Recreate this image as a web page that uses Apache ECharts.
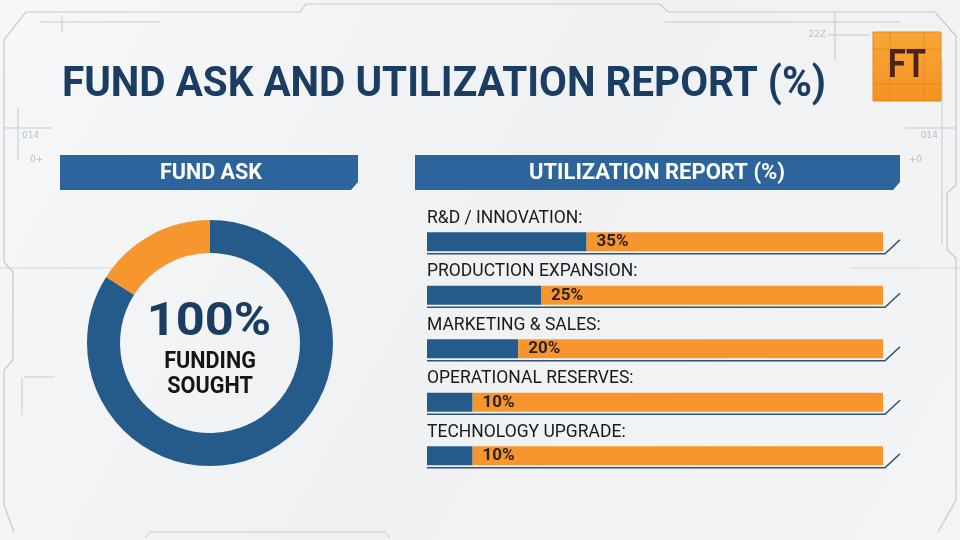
<!DOCTYPE html>
<html>
<head>
<meta charset="utf-8">
<script src="https://cdn.jsdelivr.net/npm/echarts@6/dist/echarts.min.js"></script>
<style>
html,body{margin:0;padding:0;width:960px;height:540px;overflow:hidden;}
#main{width:960px;height:540px;}
</style>
</head>
<body>
<div id="main"></div>
<script>
// ---- data ----
var titleText = 'FUND ASK AND UTILIZATION REPORT (%)';
var leftHeader = 'FUND ASK';
var rightHeader = 'UTILIZATION REPORT (%)';
var donutNames = ['Funding Sought', 'Other'];
var donutValues = [84, 16];
var donutCenterValue = '100%';
var donutCenterText = ['FUNDING', 'SOUGHT'];
var categories = ['R&D / INNOVATION:', 'PRODUCTION EXPANSION:', 'MARKETING & SALES:', 'OPERATIONAL RESERVES:', 'TECHNOLOGY UPGRADE:'];
var utilization = [35, 25, 20, 10, 10];
var remainder = utilization.map(function (v) { return 100 - v; });

var BLUE = '#255b8b';
var ORANGE = '#f7962e';
var HEAD = '#2d649c';
var NAVY = '#1b3d61';
var narrow = 'Roboto,"Noto Sans",sans-serif';
var condBold = 'Roboto,"Noto Sans",sans-serif';

var chart = echarts.init(document.getElementById('main'), null, {renderer: 'canvas'});

function sText(x, y, text, font, fill, sx, align) {
  return {type: 'text', x: x, y: y, scaleX: sx, scaleY: 1,
    style: {x: 0, y: 0, text: text, fill: fill, font: font, align: align || 'center', verticalAlign: 'middle'}};
}

var deco = '#c3c9d1';
var graphics = [
  // background
  {type: 'rect', shape: {x: 0, y: 0, width: 960, height: 540}, z: -10,
   style: {fill: new echarts.graphic.LinearGradient(0, 0, 1, 1, [
     {offset: 0, color: '#f6f7f8'}, {offset: 0.5, color: '#eff1f3'}, {offset: 1, color: '#f3f4f6'}])}},
  // frame
  {type: 'polyline', z: -5, shape: {points: [[4, 200], [4, 40], [26, 12], [300, 12], [306, 4]]}, style: {stroke: deco, lineWidth: 1.2, fill: null}},
  {type: 'polyline', z: -5, shape: {points: [[306, 4], [660, 4], [668, 12], [935, 12], [956, 36], [956, 170]]}, style: {stroke: deco, lineWidth: 1.2, fill: null}},
  {type: 'polyline', z: -5, shape: {points: [[4, 200], [4, 262], [13, 272], [13, 360], [4, 370], [4, 505], [14, 532]]}, style: {stroke: deco, lineWidth: 1.2, fill: null}},
  {type: 'polyline', z: -5, shape: {points: [[956, 170], [956, 185], [947, 193], [947, 250], [956, 258], [956, 500], [938, 532]]}, style: {stroke: deco, lineWidth: 1.2, fill: null}},
  {type: 'polyline', z: -5, shape: {points: [[145, 538], [150, 532], [385, 532], [390, 538]]}, style: {stroke: deco, lineWidth: 1, fill: null}},
  {type: 'line', z: -5, shape: {x1: 40, y1: 22, x2: 160, y2: 22}, style: {stroke: deco, lineWidth: 1}},
  {type: 'line', z: -5, shape: {x1: 62, y1: 15, x2: 62, y2: 32}, style: {stroke: deco, lineWidth: 1}},
  {type: 'line', z: -5, shape: {x1: 665, y1: 22, x2: 900, y2: 22}, style: {stroke: deco, lineWidth: 1}},
  {type: 'line', z: -5, shape: {x1: 835, y1: 12, x2: 835, y2: 60}, style: {stroke: deco, lineWidth: 1}},
  {type: 'line', z: -5, shape: {x1: 828, y1: 35, x2: 870, y2: 35}, style: {stroke: deco, lineWidth: 1}},
  {type: 'text', z: -5, style: {x: 826, y: 35, text: '22Z', fill: '#b8bec6', font: '9px "DejaVu Sans"', align: 'right', verticalAlign: 'middle'}},
  {type: 'line', z: -5, shape: {x1: 5, y1: 128, x2: 52, y2: 128}, style: {stroke: deco, lineWidth: 1}},
  {type: 'line', z: -5, shape: {x1: 18, y1: 108, x2: 18, y2: 160}, style: {stroke: deco, lineWidth: 1}},
  {type: 'text', z: -5, style: {x: 22, y: 136, text: '014', fill: '#b8bec6', font: '9px "DejaVu Sans"', verticalAlign: 'middle'}},
  {type: 'text', z: -5, style: {x: 30, y: 160, text: '0+', fill: '#b8bec6', font: '9px "DejaVu Sans"', verticalAlign: 'middle'}},
  {type: 'line', z: -5, shape: {x1: 905, y1: 128, x2: 955, y2: 128}, style: {stroke: deco, lineWidth: 1}},
  {type: 'line', z: -5, shape: {x1: 942, y1: 60, x2: 942, y2: 245}, style: {stroke: deco, lineWidth: 1}},
  {type: 'text', z: -5, style: {x: 938, y: 136, text: '014', fill: '#b8bec6', font: '9px "DejaVu Sans"', align: 'right', verticalAlign: 'middle'}},
  {type: 'text', z: -5, style: {x: 922, y: 160, text: '+0', fill: '#b8bec6', font: '9px "DejaVu Sans"', align: 'right', verticalAlign: 'middle'}},
  {type: 'line', z: -5, shape: {x1: 0, y1: 268, x2: 150, y2: 268}, style: {stroke: '#d3d7dc', lineWidth: 1}},
  {type: 'line', z: -5, shape: {x1: 850, y1: 268, x2: 960, y2: 268}, style: {stroke: '#d3d7dc', lineWidth: 1}},
  {type: 'line', z: -5, shape: {x1: 22, y1: 378, x2: 22, y2: 415}, style: {stroke: deco, lineWidth: 1}},
  {type: 'line', z: -5, shape: {x1: 24, y1: 377, x2: 55, y2: 377}, style: {stroke: deco, lineWidth: 1}},
  // title
  sText(62, 85, titleText, 'bold 43px ' + condBold, NAVY, 0.94, 'left'),
  // FT logo
  {type: 'rect', shape: {x: 873, y: 32, width: 68, height: 69},
   style: {fill: new echarts.graphic.LinearGradient(0, 0, 0, 1, [{offset: 0, color: '#f8a63a'}, {offset: 1, color: '#f39220'}]), stroke: '#e8891c', lineWidth: 1}},
  {type: 'line', shape: {x1: 873, y1: 49, x2: 941, y2: 49}, style: {stroke: 'rgba(200,110,20,0.35)', lineWidth: 1}},
  {type: 'line', shape: {x1: 873, y1: 84, x2: 941, y2: 84}, style: {stroke: 'rgba(200,110,20,0.35)', lineWidth: 1}},
  {type: 'line', shape: {x1: 890, y1: 32, x2: 890, y2: 101}, style: {stroke: 'rgba(200,110,20,0.35)', lineWidth: 1}},
  {type: 'line', shape: {x1: 924, y1: 32, x2: 924, y2: 101}, style: {stroke: 'rgba(200,110,20,0.35)', lineWidth: 1}},
  sText(907, 67, 'FT', 'bold 38px ' + condBold, '#4a2418', 0.85),
  // header bars
  {type: 'polygon', shape: {points: [[60, 155], [358, 155], [358, 182], [351, 190], [60, 190]]}, style: {fill: HEAD}},
  sText(211, 173, leftHeader, 'bold 22px ' + condBold, '#ffffff', 0.98),
  {type: 'polygon', shape: {points: [[415, 155], [900, 155], [900, 182], [893, 190], [415, 190]]}, style: {fill: HEAD}},
  sText(657, 173, rightHeader, 'bold 22px ' + condBold, '#ffffff', 1.0),
  // donut centre text
  sText(209, 323, donutCenterValue, 'bold 46px ' + condBold, NAVY, 1.1),
  sText(210, 362, donutCenterText[0], 'bold 23px ' + condBold, '#151515', 0.94),
  sText(210, 387, donutCenterText[1], 'bold 23px ' + condBold, '#151515', 0.94)
];

var option = {
  animation: false,
  graphic: graphics,
  grid: {left: 427, right: 77, top: 215, height: 267.5},
  xAxis: {type: 'value', min: 0, max: 100, show: false},
  yAxis: {type: 'category', data: categories, inverse: true, show: false},
  series: [
    {
      type: 'pie', radius: [90, 123], center: [210, 343], startAngle: 90, clockwise: true,
      label: {show: false}, labelLine: {show: false}, silent: true,
      data: donutNames.map(function (n, i) {
        return {name: n, value: donutValues[i], itemStyle: {color: i === 0 ? BLUE : ORANGE}};
      })
    },
    {
      type: 'bar', stack: 'u', barWidth: 19, data: utilization,
      itemStyle: {color: BLUE},
      label: {
        show: true, position: [0, -14], align: 'left', verticalAlign: 'middle',
        formatter: function (p) { return categories[p.dataIndex]; },
        color: '#1a1a1a', fontSize: 17.5, fontFamily: narrow
      }
    },
    {
      type: 'bar', stack: 'u', barWidth: 19, data: remainder,
      itemStyle: {color: ORANGE},
      label: {
        show: true, position: 'insideLeft', distance: 10,
        formatter: function (p) { return utilization[p.dataIndex] + '%'; },
        color: '#2a2420', fontSize: 17, fontWeight: 'bold', fontFamily: condBold
      }
    },
    {
      type: 'custom', silent: true, z: 1,
      data: categories.map(function (c, i) { return [100, i]; }),
      renderItem: function (params, api) {
        var end = api.coord([api.value(0), api.value(1)]);
        var start = api.coord([0, api.value(1)]);
        var y = end[1] + 12;
        return {
          type: 'polyline',
          shape: {points: [[start[0], y], [end[0] + 2, y], [end[0] + 17, y - 14]]},
          style: {stroke: '#2e5378', lineWidth: 1.6, fill: null}
        };
      }
    }
  ]
};
chart.setOption(option);
</script>
</body>
</html>
